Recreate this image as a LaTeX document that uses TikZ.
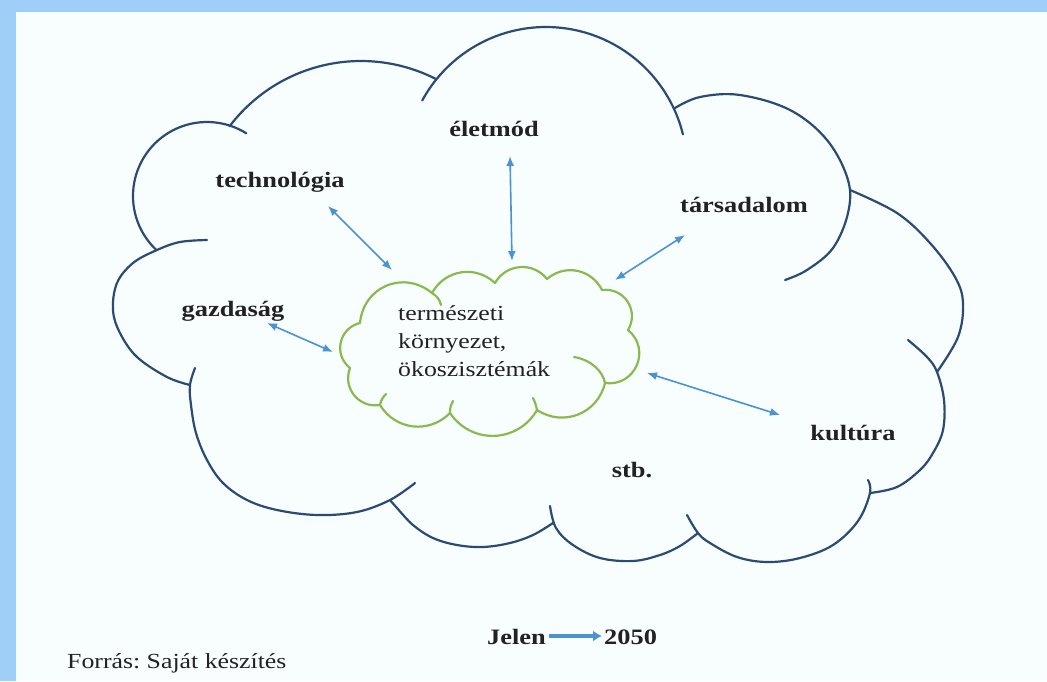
\documentclass[tikz,border=0pt]{standalone}
\usepackage{fontspec}
\setmainfont{Liberation Serif}[FakeStretch=1.2]
\usetikzlibrary{arrows.meta,calc}
\definecolor{navy}{HTML}{2C4B74}
\definecolor{leaf}{HTML}{8AB94F}
\definecolor{sky}{HTML}{4B93D1}
\definecolor{ink}{HTML}{222222}
\definecolor{paper}{HTML}{F8FDFD}
\definecolor{frame}{HTML}{9FCFF8}
\frenchspacing
\tikzset{
  outer/.style={draw=navy, line width=2.2pt, line cap=round, line join=round},
  gline/.style={draw=leaf, line width=2.2pt, line cap=round, line join=round},
  lab/.style={text=ink, inner sep=0pt, font=\fontsize{22}{26}\selectfont\bfseries},
  gtext/.style={text=ink, inner sep=0pt, anchor=base west, font=\fontsize{21.5}{26}\selectfont},
  biarrow/.style={draw=sky, line width=1.6pt, {Latex[length=10pt,width=8pt]}-{Latex[length=10pt,width=8pt]}},
}
% circular-looking lobe from #1 to #2, control factor #3, tangent angle #4
\newcommand\lobe[4]{.. controls ($(#1)!#3!#4:(#2)$) and ($(#2)!#3!-#4:(#1)$) .. (#2)}
\begin{document}
\begin{tikzpicture}[x=1pt,y=-1pt]
\useasboundingbox (0,0) rectangle (1047,681);
\fill[paper] (0,0) rectangle (1047,681);
\fill[frame] (0,0) rectangle (1047,12);
\fill[frame] (0,0) rectangle (16,681);
% outer cloud
\draw[outer] plot[domain=133:302, samples=60, variable=\t] ({207+74*cos(\t)},{196+74*sin(\t)});
\draw[outer] plot[domain=217.2:297, samples=60, variable=\t] ({361+165*cos(\t)},{226+165*sin(\t)});
\draw[outer] plot[domain=208.6:346.2, samples=80, variable=\t] ({546+141*cos(\t)},{168+141*sin(\t)});
\draw[outer] plot[smooth, tension=0.6] coordinates {(675,108) (700,97) (740,95) (790,110) (827,140) (848,180) (848,213) (833,248) (807,270) (785,280)};
\draw[outer] plot[smooth, tension=0.6] coordinates {(850,190) (897,213) (930,243) (955,277) (963,303) (958,337) (937,372)};
\draw[outer] plot[smooth, tension=0.6] coordinates {(908,340) (927,357) (937,372) (944,400) (943,430) (933,453) (920,470) (897,487) (870,493)};
\draw[outer] plot[smooth, tension=0.6] coordinates {(868,480) (870,493) (858,521) (833,545) (800,558) (767,562) (737,557) (710,543) (698,533) (687,515)};
\draw[outer] plot[smooth, tension=0.6] coordinates {(698,533) (680,546) (660,555) (633,561) (600,558) (573,545) (556,528) (550,506)};
\draw[outer] plot[smooth, tension=0.6] coordinates {(553,523) (533,535) (510,543) (483,547) (457,545) (433,538) (413,525) (397,508) (390,500)};
\draw[outer] plot[smooth, tension=0.6] coordinates {(415,483) (390,500) (357,512) (317,515) (277,510) (247,500) (223,483) (207,460) (196,433) (191,405) (190,385) (195,368)};
\draw[outer] plot[smooth, tension=0.6] coordinates {(190,385) (167,377) (137,357) (120,333) (113,310) (117,283) (133,263) (157,250) (180,242) (207,240)};
% inner cloud
\coordinate (p1) at (360,323);
\coordinate (p2) at (432,293);
\coordinate (p3) at (495,283);
\coordinate (p4) at (547,279);
\coordinate (p5) at (602,290);
\coordinate (p6) at (628,330);
\coordinate (p7) at (605,383);
\coordinate (p8) at (537,410);
\coordinate (p9) at (450,413);
\coordinate (p10) at (380,405);
\coordinate (p11) at (350,368);
\draw[gline] (p1) \lobe{p1}{p2}{0.47}{62} \lobe{p2}{p3}{0.42}{52} \lobe{p3}{p4}{0.43}{56} \lobe{p4}{p5}{0.42}{52}
  \lobe{p5}{p6}{0.47}{64} \lobe{p6}{p7}{0.53}{74} \lobe{p7}{p8}{0.43}{55} \lobe{p8}{p9}{0.44}{58}
  \lobe{p9}{p10}{0.42}{52} \lobe{p10}{p11}{0.45}{60} \lobe{p11}{p1}{0.47}{64} -- cycle;
\draw[gline] (p2) .. controls (437,296) and (440,300) .. (441,305);
\draw[gline] (p8) .. controls (536,405) and (535,402) .. (533,398);
\draw[gline] (p9) .. controls (450,407) and (451,404) .. (453,401);
\draw[gline] (p10) .. controls (381,400) and (383,397) .. (386,394);
\draw[gline] (p7) .. controls (603,372) and (592,360) .. (574,357);
\node[gtext] (g1) at (398,320) {természeti};
\node[gtext] (g2) at (398,348) {környezet,};
\node[gtext] (g3) at (398,376) {ökoszisztémák};
% labels
\node[lab, anchor=base] (elet) at (494,136) {életmód};
\node[lab, anchor=base] (tech) at (280,187) {technológia};
\node[lab, anchor=base] (tars) at (744,212) {társadalom};
\node[lab, anchor=base] (gazd) at (233,316) {gazdaság};
\node[lab, anchor=base] (kult) at (853,440) {kultúra};
\node[lab, anchor=base] (stb) at (632,477) {stb.};
% arrow ends
\coordinate (t1) at (328,206); \coordinate (t2) at (392,270);
\coordinate (e1) at (510,156); \coordinate (e2) at (512,261);
\coordinate (s1) at (685,235); \coordinate (s2) at (615,280);
\coordinate (z1) at (267,323); \coordinate (z2) at (333,352);
\coordinate (k1) at (647,373); \coordinate (k2) at (780,415);
\draw[biarrow] (t1) -- (t2);
\draw[biarrow] (e1) -- (e2);
\draw[biarrow] (s1) -- (s2);
\draw[biarrow] (z1) -- (z2);
\draw[biarrow] (k1) -- (k2);
% footer
\node[lab, anchor=base west] (jelen) at (487,644) {Jelen};
\node[lab, anchor=base west] (ev) at (604,644) {2050};
\coordinate (ja) at (549,636);
\coordinate (jb) at (602,636);
\draw[draw=sky, line width=3.2pt, -{Latex[length=9pt,width=11pt]}] (ja) -- (jb);
\node[gtext] (forras) at (67,668) {Forrás: Saját készítés};
\end{tikzpicture}
\end{document}
